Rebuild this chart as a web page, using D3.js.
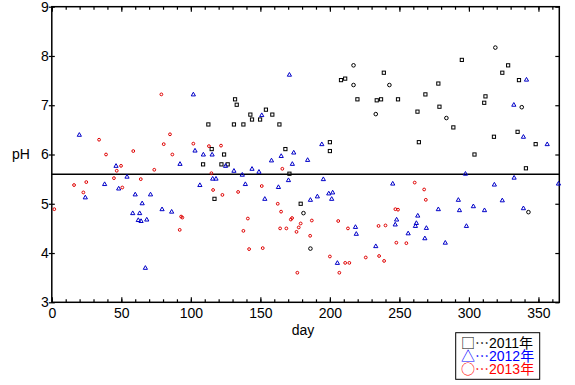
<!DOCTYPE html>
<html>
<head>
<meta charset="utf-8">
<script src="https://cdn.jsdelivr.net/npm/d3@7"></script>
<style>
  body { margin: 0; background: #fff; }
  svg { display: block; font-family: "Liberation Sans", Arial, sans-serif; }
</style>
</head>
<body>
<svg id="chart" width="575" height="385"></svg>
<script>
// [day, pH] pairs
const ph2011Squares = [
  [108.8,5.80],[112.6,6.61],[115,6.11],[117,5.10],[122,5.80],[123.9,6.0],[126.5,5.80],
  [131,6.61],[131.8,7.12],[133,7.01],[137.8,6.61],[142.8,6.81],[144,6.71],[149.8,6.71],
  [154,6.91],[158.6,6.81],[163.7,6.61],[168,6.11],[170.9,5.61],[179,5.0],[200,6.25],
  [200,6.07],[208,7.51],[211,7.54],[219.8,7.12],[233.7,7.10],[236.8,7.12],[238.8,7.66],
  [249,7.12],[263,6.87],[264,6.25],[268.7,7.22],[278,7.44],[278.8,6.97],[288.8,6.55],
  [294.9,7.92],[304,6.0],[311,7.05],[311.9,7.18],[318,6.36],[324,7.66],[328.2,7.81],
  [335,6.46],[336,7.51],[341,5.72],[348,6.21]
];
const ph2011Circles = [
  [181,4.81],[186,4.09],[217,7.81],[217,7.41],[233,6.82],[242.8,7.41],[283.8,6.74],
  [319,8.17],[338,6.96],[342.8,4.83]
];
const ph2012 = [
  [19.8,6.40],[24.1,5.13],[38,5.40],[46.2,5.77],[48.1,5.31],[54.1,5.55],[58.2,4.81],
  [60,5.19],[62.2,4.67],[63.2,4.81],[64.2,4.65],[65,5.01],[67.3,3.70],[68.3,4.68],
  [71,5.19],[79.3,4.89],[86.2,4.84],[92.2,5.81],[101.8,7.22],[103,6.08],[106.5,5.38],
  [109,6.0],[115.3,6.0],[115.7,5.51],[118.1,5.51],[125,5.77],[131,5.67],[137,5.59],
  [139.2,5.40],[144,5.71],[149,5.65],[151,6.80],[153.2,5.10],[158,5.88],[163,5.34],
  [165,5.97],[170.2,5.48],[170.9,7.62],[173,5.81],[174,6.04],[184,5.89],[186,5.08],
  [191,5.15],[194.2,6.21],[195.3,5.50],[199.2,5.21],[201.3,5.10],[202,5.23],[205.4,3.80],
  [218.4,4.53],[219,4.39],[233,4.14],[245.2,5.41],[247,4.58],[248,4.68],[256.3,4.40],
  [261.5,4.55],[262.2,4.61],[263.2,4.76],[268.3,4.30],[269.4,4.51],[278,4.89],[283,4.21],
  [292.4,5.08],[293.2,4.87],[297.5,5.61],[298.2,4.55],[303.2,4.95],[311.2,4.87],
  [318.3,5.39],[324,5.07],[332.3,7.01],[332.5,5.53],[339.2,6.36],[339.2,4.91],
  [341.4,7.52],[356.3,6.21],[364.4,5.41]
];
const ph2013 = [
  [1.8,4.89],[16,5.38],[22.7,5.23],[24.8,5.44],[34,6.30],[39,6.0],[44.7,5.52],[46.7,5.67],
  [49.8,5.77],[50.7,5.33],[58.6,6.07],[64,5.50],[73.7,5.69],[78.8,7.22],[80.5,6.21],
  [85,6.41],[86.7,6.0],[92,4.47],[93,4.74],[93.9,4.72],[101.8,6.22],[113,6.17],
  [114.8,5.62],[116,5.28],[121.7,6.18],[122.7,5.18],[134,5.24],[137.8,4.45],[141,4.70],
  [141.9,4.08],[151,5.36],[151.7,4.10],[162.5,5.0],[164.2,4.50],[164.9,4.84],[165.8,5.71],
  [168.7,4.50],[171.9,4.68],[172.8,4.71],[176,4.43],[176.6,3.60],[177.6,4.52],[179,4.60],
  [185.8,4.35],[187,4.66],[200,3.93],[206,4.65],[206.8,3.60],[211,3.80],[213,4.50],
  [214,3.80],[225.8,3.91],[235,4.55],[235.4,3.94],[239,3.84],[240,4.56],[247.1,4.89],
  [247.8,4.21],[249,4.88],[255,4.20],[261,5.43],[267.8,5.29],[269,5.08]
];
const referencePH = 5.6;
const xMajorTicks = [0, 50, 100, 150, 200, 250, 300, 350];
const yTicks = [3, 4, 5, 6, 7, 8, 9];
const legendYears = ["2011", "2012", "2013"];

const svg = d3.select("#chart");
const plotLeft = 51.8, plotRight = 559.3, plotTop = 6.7, plotBottom = 302.3;

const x = d3.scaleLinear().domain([0, 365]).range([plotLeft, plotRight]);
const y = d3.scaleLinear().domain([3, 9]).range([plotBottom, plotTop]);

// axes
const minor = d3.range(0, 366, 10);

svg.append("g")
  .attr("transform", `translate(0,${plotBottom})`)
  .call(d3.axisBottom(x).tickValues(minor).tickSize(-3).tickFormat(""))
  .call(g => g.select(".domain").remove());
svg.append("g")
  .attr("transform", `translate(0,${plotBottom})`)
  .call(d3.axisBottom(x).tickValues(xMajorTicks).tickSizeInner(-5).tickSizeOuter(0).tickPadding(6))
  .call(g => g.select(".domain").remove())
  .call(g => g.selectAll("text").attr("font-size", 14).attr("fill", "#000"));
svg.append("g")
  .attr("transform", `translate(0,${plotTop})`)
  .call(d3.axisTop(x).tickValues(minor).tickSize(-3).tickFormat(""))
  .call(g => g.select(".domain").remove());
svg.append("g")
  .attr("transform", `translate(0,${plotTop})`)
  .call(d3.axisTop(x).tickValues(xMajorTicks).tickSize(-5).tickFormat(""))
  .call(g => g.select(".domain").remove());

svg.append("g")
  .attr("transform", `translate(${plotLeft},0)`)
  .call(d3.axisLeft(y).tickValues(yTicks).tickSize(3).tickPadding(0).tickFormat(d3.format("d")))
  .call(g => g.select(".domain").remove())
  .call(g => g.selectAll("text").attr("font-size", 14).attr("fill", "#000"));
svg.append("g")
  .attr("transform", `translate(${plotLeft},0)`)
  .call(d3.axisRight(y).tickValues(yTicks).tickSize(3).tickFormat(""))
  .call(g => g.select(".domain").remove());
svg.append("g")
  .attr("transform", `translate(${plotRight},0)`)
  .call(d3.axisRight(y).tickValues(yTicks).tickSize(-4).tickFormat(""))
  .call(g => g.select(".domain").remove());

svg.selectAll(".tick line").attr("stroke", "#000").attr("stroke-width", 1.2);

svg.append("rect")
  .attr("x", plotLeft).attr("y", plotTop)
  .attr("width", plotRight - plotLeft).attr("height", plotBottom - plotTop)
  .attr("fill", "none").attr("stroke", "#000").attr("stroke-width", 1.5);

svg.append("line")
  .attr("x1", plotLeft).attr("x2", plotRight)
  .attr("y1", y(referencePH)).attr("y2", y(referencePH))
  .attr("stroke", "#000").attr("stroke-width", 1.5);

// axis titles
svg.append("text").attr("x", 12).attr("y", 158.5)
  .attr("font-size", 14).text("pH");
svg.append("text").attr("x", 303).attr("y", 335)
  .attr("text-anchor", "middle").attr("font-size", 14).text("day");

// markers
const marks = svg.append("g").attr("fill", "none").attr("stroke-width", 1);

marks.selectAll("rect.y2011")
  .data(ph2011Squares).join("rect")
  .attr("class", "y2011")
  .attr("x", d => x(d[0]) - 1.6).attr("y", d => y(d[1]) - 1.6)
  .attr("width", 3.2).attr("height", 3.2)
  .attr("stroke", "#000");

marks.selectAll("circle.y2011")
  .data(ph2011Circles).join("circle")
  .attr("class", "y2011")
  .attr("cx", d => x(d[0])).attr("cy", d => y(d[1]))
  .attr("r", 1.8)
  .attr("stroke", "#000");

marks.selectAll("path.y2012")
  .data(ph2012).join("path")
  .attr("class", "y2012")
  .attr("d", d => {
    const cx = x(d[0]), cy = y(d[1]);
    return `M${cx},${cy - 2.2}L${cx + 2.1},${cy + 1.5}L${cx - 2.1},${cy + 1.5}Z`;
  })
  .attr("stroke", "#0000c8");

marks.selectAll("circle.y2013")
  .data(ph2013).join("circle")
  .attr("class", "y2013")
  .attr("cx", d => x(d[0])).attr("cy", d => y(d[1]))
  .attr("r", 1.4)
  .attr("stroke", "#e00000");

// legend
const legend = svg.append("g");
legend.append("rect")
  .attr("x", 455.7).attr("y", 332.7)
  .attr("width", 84).attr("height", 46.6)
  .attr("fill", "#fff").attr("stroke", "#000").attr("stroke-width", 1);

const legendSymbols = ["□", "△", "○"];
const legendColors = ["#000", "#0000ff", "#ff0000"];
legendYears.forEach((yr, i) => {
  const t = legend.append("text")
    .attr("x", 461).attr("y", 348.3 + i * 13)
    .attr("font-size", 14)
    .attr("fill", legendColors[i]);
  t.append("tspan").attr("font-family", "'Noto Sans CJK JP'").text(legendSymbols[i] + "…");
  t.append("tspan").text(yr);
  t.append("tspan").attr("font-family", "'Noto Sans CJK JP'").text("年");
});
</script>
</body>
</html>
